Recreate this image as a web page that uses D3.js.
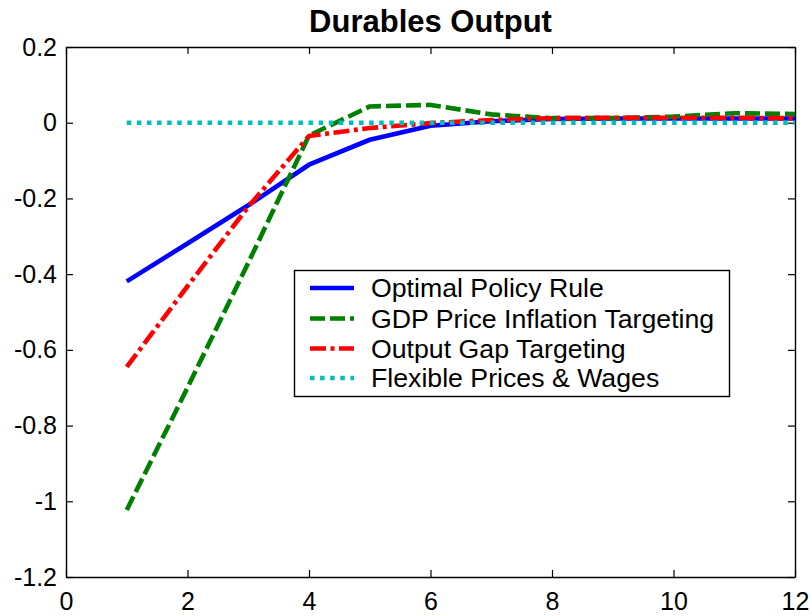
<!DOCTYPE html>
<html>
<head>
<meta charset="utf-8">
<script src="https://cdn.jsdelivr.net/npm/d3@7"></script>
<style>
  html, body { margin: 0; padding: 0; background: #fff; }
  svg { display: block; font-family: Arial, "Liberation Sans", Helvetica, sans-serif; }
</style>
</head>
<body>
<svg id="chart" width="812" height="616"></svg>
<script>
// Impulse responses of durables output under alternative policy regimes
const periods = [1, 2, 3, 4, 5, 6, 7, 8, 9, 10, 11, 12];
const optimalRule   = [-0.419, -0.319, -0.218, -0.111, -0.045, -0.008, 0.004, 0.010, 0.011, 0.011, 0.011, 0.011];
const gdpInflation  = [-1.023, -0.700, -0.370, -0.034, 0.043, 0.047, 0.022, 0.012, 0.012, 0.016, 0.025, 0.023];
const outputGap     = [-0.645, -0.432, -0.222, -0.035, -0.014, -0.001, 0.007, 0.012, 0.013, 0.013, 0.013, 0.012];
const flexible      = [0, 0, 0, 0, 0, 0, 0, 0, 0, 0, 0, 0];
const seriesNames   = ["Optimal Policy Rule", "GDP Price Inflation Targeting", "Output Gap Targeting", "Flexible Prices & Wages"];
const xTicks = [0, 2, 4, 6, 8, 10, 12];
const yTicks = [0.2, 0, -0.2, -0.4, -0.6, -0.8, -1, -1.2];
const title = "Durables Output";

const styles = [
  { color: "#0000ff", width: 4.6, dash: null },
  { color: "#008000", width: 4.6, dash: "15,5" },
  { color: "#ff0000", width: 4.6, dash: "16,4.5,4,4.5" },
  { color: "#00bfbf", width: 4.6, dash: "4.5,5.6" }
];
const seriesValues = [optimalRule, gdpInflation, outputGap, flexible];

const svg = d3.select("#chart");
const plot = { left: 66, top: 47, right: 795, bottom: 577 };

const x = d3.scaleLinear().domain([0, 12]).range([plot.left, plot.right]);
const y = d3.scaleLinear().domain([-1.2, 0.2]).range([plot.bottom, plot.top]);

// Title
svg.append("text")
  .attr("x", (plot.left + plot.right) / 2)
  .attr("y", 32)
  .attr("text-anchor", "middle")
  .attr("font-size", 31)
  .attr("font-weight", "bold")
  .text(title);

// Axes: ticks point inward on all four sides, labels on left and bottom
const tick = 7;
const fmt = d => String(d);

const gBottom = svg.append("g")
  .attr("transform", `translate(0,${plot.bottom})`)
  .call(d3.axisBottom(x).tickValues(xTicks).tickFormat(fmt).tickSizeInner(-tick).tickSizeOuter(0).tickPadding(15));
const gLeft = svg.append("g")
  .attr("transform", `translate(${plot.left},0)`)
  .call(d3.axisLeft(y).tickValues(yTicks).tickFormat(fmt).tickSizeInner(-tick).tickSizeOuter(0).tickPadding(9));
const gTop = svg.append("g")
  .attr("transform", `translate(0,${plot.top})`)
  .call(d3.axisTop(x).tickValues(xTicks).tickFormat("").tickSizeInner(-tick).tickSizeOuter(0));
const gRight = svg.append("g")
  .attr("transform", `translate(${plot.right},0)`)
  .call(d3.axisRight(y).tickValues(yTicks).tickFormat("").tickSizeInner(-tick).tickSizeOuter(0));

[gBottom, gLeft, gTop, gRight].forEach(g => {
  g.selectAll(".domain").attr("stroke", "#000").attr("stroke-width", 1.4);
  g.selectAll(".tick line").attr("stroke", "#000").attr("stroke-width", 1.2);
  g.selectAll(".tick text")
    .attr("fill", "#000")
    .attr("font-size", 25)
    .attr("font-family", "Arial, 'Liberation Sans', Helvetica, sans-serif");
});

// Series lines
const line = d3.line()
  .x((d, i) => x(periods[i]))
  .y(d => y(d));

seriesValues.forEach((vals, k) => {
  const s = styles[k];
  svg.append("path")
    .datum(vals)
    .attr("fill", "none")
    .attr("stroke", s.color)
    .attr("stroke-width", s.width)
    .attr("stroke-linejoin", "round")
    .attr("stroke-dasharray", s.dash)
    .attr("d", line);
});

// Legend
const legend = svg.append("g");
legend.append("rect")
  .attr("x", 294.5).attr("y", 270.5)
  .attr("width", 435).attr("height", 126)
  .attr("fill", "#fff")
  .attr("stroke", "#000")
  .attr("stroke-width", 1.4);

const rowY = [288, 318.5, 348.5, 378];
seriesNames.forEach((name, k) => {
  const s = styles[k];
  legend.append("line")
    .attr("x1", 310).attr("x2", 354)
    .attr("y1", rowY[k]).attr("y2", rowY[k])
    .attr("stroke", s.color)
    .attr("stroke-width", s.width)
    .attr("stroke-dasharray", s.dash);
  legend.append("text")
    .attr("x", 371)
    .attr("y", rowY[k])
    .attr("dy", "0.35em")
    .attr("font-size", 26.7)
    .attr("fill", "#000")
    .text(name);
});
</script>
</body>
</html>
